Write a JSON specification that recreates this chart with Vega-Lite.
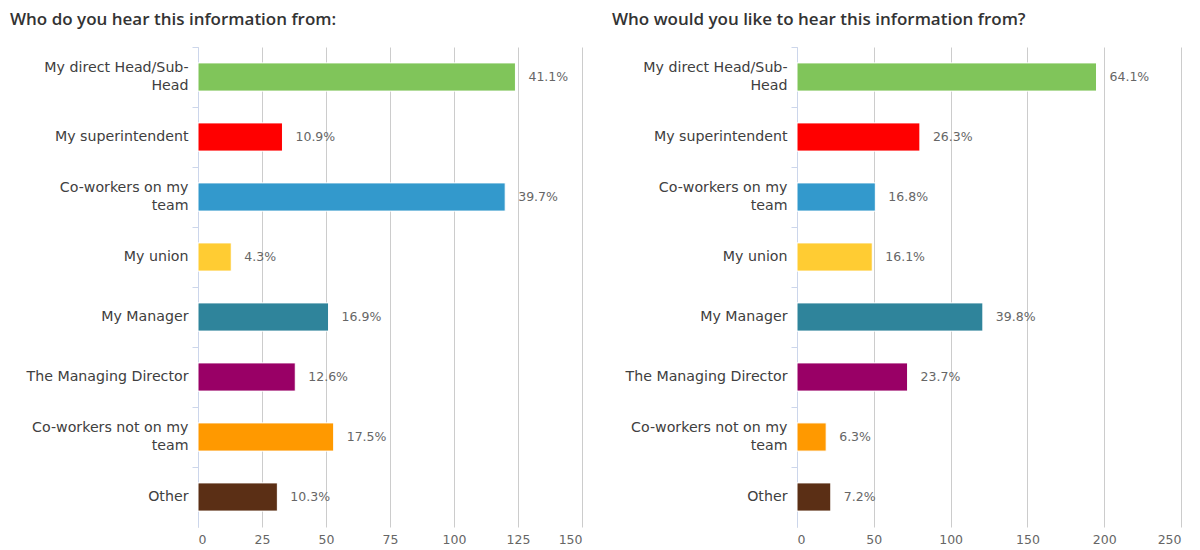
{
  "$schema": "https://vega.github.io/schema/vega-lite/v6.json",
  "padding": {"left": 10, "top": 10, "right": 5, "bottom": 0},
  "autosize": {"type": "pad"},
  "background": "white",
  "spacing": 215,
  "bounds": "flush",
  "datasets": {
    "heard": [
      {"category": "My direct Head/Sub-Head", "count": 124, "pct": "41.1%"},
      {"category": "My superintendent", "count": 33, "pct": "10.9%"},
      {"category": "Co-workers on my team", "count": 120, "pct": "39.7%"},
      {"category": "My union", "count": 13, "pct": "4.3%"},
      {"category": "My Manager", "count": 51, "pct": "16.9%"},
      {"category": "The Managing Director", "count": 38, "pct": "12.6%"},
      {"category": "Co-workers not on my team", "count": 53, "pct": "17.5%"},
      {"category": "Other", "count": 31, "pct": "10.3%"}
    ],
    "wanted": [
      {"category": "My direct Head/Sub-Head", "count": 195, "pct": "64.1%"},
      {"category": "My superintendent", "count": 80, "pct": "26.3%"},
      {"category": "Co-workers on my team", "count": 51, "pct": "16.8%"},
      {"category": "My union", "count": 49, "pct": "16.1%"},
      {"category": "My Manager", "count": 121, "pct": "39.8%"},
      {"category": "The Managing Director", "count": 72, "pct": "23.7%"},
      {"category": "Co-workers not on my team", "count": 19, "pct": "6.3%"},
      {"category": "Other", "count": 22, "pct": "7.2%"}
    ]
  },
  "config": {
    "view": {"stroke": null},
    "title": {"anchor": "start", "frame": "bounds", "font": "Open Sans", "fontSize": 17, "fontWeight": 600, "color": "#333333", "offset": 18},
    "axis": {"labelFont": "DejaVu Sans", "labelFontSize": 12.5}
  },
  "hconcat": [
    {
      "title": "Who do you hear this information from:",
      "width": 384,
      "height": 480,
      "data": {"name": "heard"},
      "encoding": {
        "y": {
          "field": "category", "type": "nominal", "sort": null, "title": null,
          "scale": {"paddingInner": 0, "paddingOuter": 0},
          "axis": {
            "bandPosition": 0, "domainColor": "#ccd6eb", "tickColor": "#ccd6eb", "tickSize": 6,
            "labelPadding": 4, "labelColor": "#404040", "labelFontSize": 14.2, "labelLineHeight": 18, "minExtent": 188, "maxExtent": 188,
            "labelOffset": {"condition": {"test": "indexof(datum.value, 'team') >= 0 || indexof(datum.value, 'Sub') >= 0", "value": -9}, "value": 0},
            "labelExpr": "datum.label == 'My direct Head/Sub-Head' ? ['My direct Head/Sub-', 'Head'] : datum.label == 'Co-workers on my team' ? ['Co-workers on my', 'team'] : datum.label == 'Co-workers not on my team' ? ['Co-workers not on my', 'team'] : datum.label"
          }
        },
        "x": {
          "field": "count", "type": "quantitative", "title": null,
          "scale": {"domain": [0, 150], "nice": false},
          "axis": {"values": [0, 25, 50, 75, 100, 125, 150], "domain": false, "ticks": false, "gridColor": "#cccccc", "labelColor": "#666666", "labelPadding": 6}
        }
      },
      "layer": [
        {
          "mark": {"type": "bar", "height": {"band": 0.47}, "stroke": "white", "strokeWidth": 1},
          "encoding": {
            "color": {
              "field": "category", "type": "nominal", "legend": null,
              "scale": {
                "domain": ["My direct Head/Sub-Head", "My superintendent", "Co-workers on my team", "My union", "My Manager", "The Managing Director", "Co-workers not on my team", "Other"],
                "range": ["#80c55a", "#ff0000", "#3399cc", "#ffcc33", "#2f849b", "#990066", "#ff9900", "#5b2f15"]
              }
            }
          }
        },
        {
          "mark": {"type": "text", "align": "left", "baseline": "middle", "dx": 13, "font": "DejaVu Sans", "fontSize": 12.5, "color": "#666666"},
          "encoding": {"text": {"field": "pct"}}
        }
      ]
    },
    {
      "title": "Who would you like to hear this information from?",
      "width": 384,
      "height": 480,
      "data": {"name": "wanted"},
      "encoding": {
        "y": {
          "field": "category", "type": "nominal", "sort": null, "title": null,
          "scale": {"paddingInner": 0, "paddingOuter": 0},
          "axis": {
            "bandPosition": 0, "domainColor": "#ccd6eb", "tickColor": "#ccd6eb", "tickSize": 6,
            "labelPadding": 4, "labelColor": "#404040", "labelFontSize": 14.2, "labelLineHeight": 18, "minExtent": 185, "maxExtent": 185,
            "labelOffset": {"condition": {"test": "indexof(datum.value, 'team') >= 0 || indexof(datum.value, 'Sub') >= 0", "value": -9}, "value": 0},
            "labelExpr": "datum.label == 'My direct Head/Sub-Head' ? ['My direct Head/Sub-', 'Head'] : datum.label == 'Co-workers on my team' ? ['Co-workers on my', 'team'] : datum.label == 'Co-workers not on my team' ? ['Co-workers not on my', 'team'] : datum.label"
          }
        },
        "x": {
          "field": "count", "type": "quantitative", "title": null,
          "scale": {"domain": [0, 250], "nice": false},
          "axis": {"values": [0, 50, 100, 150, 200, 250], "domain": false, "ticks": false, "gridColor": "#cccccc", "labelColor": "#666666", "labelPadding": 6}
        }
      },
      "layer": [
        {
          "mark": {"type": "bar", "height": {"band": 0.47}, "stroke": "white", "strokeWidth": 1},
          "encoding": {
            "color": {
              "field": "category", "type": "nominal", "legend": null,
              "scale": {
                "domain": ["My direct Head/Sub-Head", "My superintendent", "Co-workers on my team", "My union", "My Manager", "The Managing Director", "Co-workers not on my team", "Other"],
                "range": ["#80c55a", "#ff0000", "#3399cc", "#ffcc33", "#2f849b", "#990066", "#ff9900", "#5b2f15"]
              }
            }
          }
        },
        {
          "mark": {"type": "text", "align": "left", "baseline": "middle", "dx": 13, "font": "DejaVu Sans", "fontSize": 12.5, "color": "#666666"},
          "encoding": {"text": {"field": "pct"}}
        }
      ]
    }
  ],
  "resolve": {"scale": {"color": "shared"}}
}
